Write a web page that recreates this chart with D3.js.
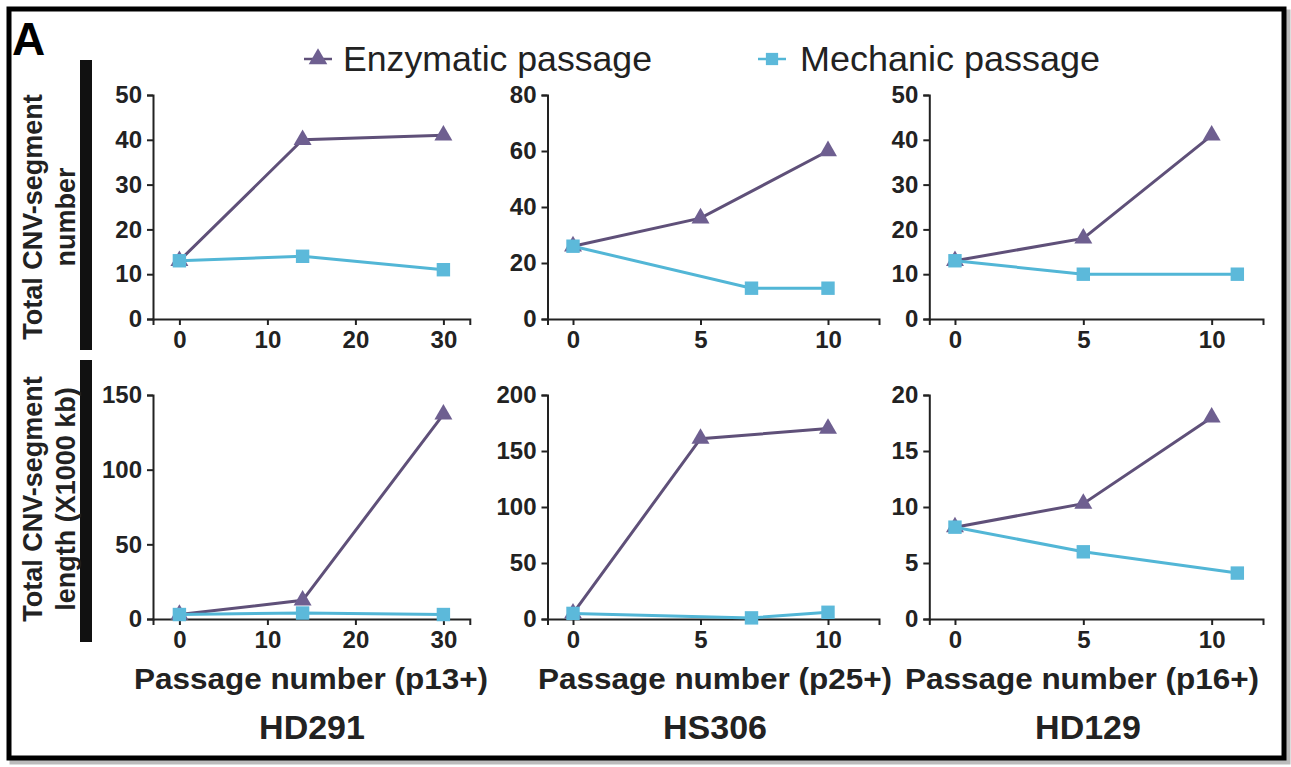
<!DOCTYPE html>
<html>
<head>
<meta charset="utf-8">
<script src="https://cdn.jsdelivr.net/npm/d3@7"></script>
<style>
  html, body { margin: 0; padding: 0; background: #fff; }
  svg { display: block; }
  text { font-family: "Liberation Sans", Arial, Helvetica, sans-serif; }
</style>
</head>
<body>
<svg id="chart" width="1291" height="767"></svg>
<script>
// ---------------- DATA ----------------
const samples = ["HD291", "HS306", "HD129"];
const xTitles = ["Passage number (p13+)", "Passage number (p25+)", "Passage number (p16+)"];
const seriesNames = ["Enzymatic passage", "Mechanic passage"];
const rowTitles = [["Total CNV-segment", "number"], ["Total CNV-segment", "length (X1000 kb)"]];

// x positions (passage offsets)
const enzX = [[0, 14, 30], [0, 5, 10], [0, 5, 10]];
const mechX = [[0, 14, 30], [0, 7, 10], [0, 5, 11]];

// Row 1: Total CNV-segment number
const enzCount = [[13, 40, 41], [26, 36, 60], [13, 18, 41]];
const mechCount = [[13, 14, 11], [26, 11, 11], [13, 10, 10]];
// Row 2: Total CNV-segment length (X1000 kb)
const enzLength = [[3, 12.5, 137], [5, 161, 170], [8.2, 10.3, 18]];
const mechLength = [[3, 4, 3], [5, 1, 6], [8.2, 6, 4.1]];

// axis domains and ticks
const xDomains = [[-3, 33], [-1, 12], [-1, 12]];
const xTicks = [[0, 10, 20, 30], [0, 5, 10], [0, 5, 10]];
const yMaxCount = [50, 80, 50];
const yTicksCount = [[0, 10, 20, 30, 40, 50], [0, 20, 40, 60, 80], [0, 10, 20, 30, 40, 50]];
const yMaxLength = [150, 200, 20];
const yTicksLength = [[0, 50, 100, 150], [0, 50, 100, 150, 200], [0, 5, 10, 15, 20]];

// ---------------- LAYOUT ----------------
const svg = d3.select("#chart");
const purpleLine = "#5f5079", purpleMark = "#6e5f90";
const cyanLine = "#52b6d6", cyanMark = "#5cb9da";
const axisColor = "#222";

// outer frame with shadow
svg.append("rect").attr("x", 12).attr("y", 12).attr("width", 1276).attr("height", 750)
  .attr("fill", "none").attr("stroke", "#bbb").attr("stroke-width", 5);
svg.append("rect").attr("x", 9).attr("y", 9).attr("width", 1275).attr("height", 749)
  .attr("fill", "#fff").attr("stroke", "#000").attr("stroke-width", 5);

// panel letter
svg.append("text").attr("x", 12).attr("y", 55).attr("font-size", 46).attr("font-weight", "bold")
  .attr("fill", "#000").text("A");

// legend
const legY = 59;
const legItems = [
  {x: 318, tx: 343, tw: 309, name: seriesNames[0], line: purpleLine, mark: purpleMark, sym: d3.symbolTriangle},
  {x: 772, tx: 800, tw: 300, name: seriesNames[1], line: cyanLine, mark: cyanMark, sym: d3.symbolSquare}
];
legItems.forEach(l => {
  svg.append("line").attr("x1", l.x - 14).attr("x2", l.x + 14).attr("y1", legY).attr("y2", legY)
    .attr("stroke", l.line).attr("stroke-width", 2.5);
  svg.append("path").attr("d", d3.symbol().type(l.sym).size(150)())
    .attr("transform", `translate(${l.x},${legY})`).attr("fill", l.mark);
  svg.append("text").attr("x", l.tx).attr("y", legY + 12).attr("font-size", 35)
    .attr("textLength", l.tw).attr("lengthAdjust", "spacingAndGlyphs")
    .attr("fill", "#222").text(l.name);
});

// row side bars and titles
const rows = [
  {top: 95, bottom: 319, barTop: 60, barBottom: 350, titleY: 217},
  {top: 395, bottom: 619, barTop: 360, barBottom: 642, titleY: 499}
];
rows.forEach((r, i) => {
  svg.append("rect").attr("x", 80).attr("y", r.barTop).attr("width", 12)
    .attr("height", r.barBottom - r.barTop).attr("fill", "#111");
  const g = svg.append("g").attr("transform", `translate(0,${r.titleY}) rotate(-90)`);
  g.append("text").attr("x", 0).attr("y", 42).attr("text-anchor", "middle")
    .attr("font-size", 27).attr("font-weight", "bold").attr("fill", "#222").text(rowTitles[i][0]);
  g.append("text").attr("x", 0).attr("y", 75).attr("text-anchor", "middle")
    .attr("font-size", 27).attr("font-weight", "bold").attr("fill", "#222").text(rowTitles[i][1]);
});

// columns
const cols = [
  {range: [153, 469.8], titleX: 311, sampleX: 312},
  {range: [547.5, 879], titleX: 715, sampleX: 715},
  {range: [929.3, 1263], titleX: 1082, sampleX: 1088}
];

function drawPanel(ci, ri, yMax, yTicks, enzY, mechY) {
  const c = cols[ci], r = rows[ri];
  const x = d3.scaleLinear().domain(xDomains[ci]).range(c.range);
  const y = d3.scaleLinear().domain([0, yMax]).range([r.bottom, r.top]);
  const g = svg.append("g");

  const xAxis = g.append("g").attr("transform", `translate(0,${r.bottom})`)
    .call(d3.axisBottom(x).tickValues(xTicks[ci]).tickSizeOuter(0).tickSize(6).tickPadding(6));
  const yAxis = g.append("g").attr("transform", `translate(${c.range[0]},0)`)
    .call(d3.axisLeft(y).tickValues(yTicks).tickSizeOuter(0).tickSize(6).tickPadding(5));
  [xAxis, yAxis].forEach(a => {
    a.select(".domain").attr("stroke", axisColor).attr("stroke-width", 2);
    a.selectAll(".tick line").attr("stroke", axisColor).attr("stroke-width", 2);
    a.selectAll(".tick text").attr("font-size", 24).attr("font-weight", "bold")
      .attr("fill", "#222").attr("font-family", "Liberation Sans, Arial, sans-serif");
  });

  const line = d3.line().x(d => x(d[0])).y(d => y(d[1]));
  const enz = enzX[ci].map((v, k) => [v, enzY[ci][k]]);
  const mech = mechX[ci].map((v, k) => [v, mechY[ci][k]]);

  g.append("path").datum(enz).attr("d", line).attr("fill", "none")
    .attr("stroke", purpleLine).attr("stroke-width", 3);
  g.selectAll(".tri").data(enz).join("path")
    .attr("d", d3.symbol().type(d3.symbolTriangle).size(140)())
    .attr("transform", d => `translate(${x(d[0])},${y(d[1])})`).attr("fill", purpleMark);

  g.append("path").datum(mech).attr("d", line).attr("fill", "none")
    .attr("stroke", cyanLine).attr("stroke-width", 3);
  g.selectAll(".sq").data(mech).join("path")
    .attr("d", d3.symbol().type(d3.symbolSquare).size(180)())
    .attr("transform", d => `translate(${x(d[0])},${y(d[1])})`).attr("fill", cyanMark);
}

for (let ci = 0; ci < 3; ci++) {
  drawPanel(ci, 0, yMaxCount[ci], yTicksCount[ci], enzCount, mechCount);
  drawPanel(ci, 1, yMaxLength[ci], yTicksLength[ci], enzLength, mechLength);

  svg.append("text").attr("x", cols[ci].titleX).attr("y", 689).attr("text-anchor", "middle")
    .attr("font-size", 30).attr("font-weight", "bold").attr("fill", "#222")
    .attr("textLength", 354).attr("lengthAdjust", "spacingAndGlyphs").text(xTitles[ci]);
  svg.append("text").attr("x", cols[ci].sampleX).attr("y", 739).attr("text-anchor", "middle")
    .attr("font-size", 34).attr("font-weight", "bold").attr("fill", "#222").text(samples[ci]);
}
</script>
</body>
</html>
